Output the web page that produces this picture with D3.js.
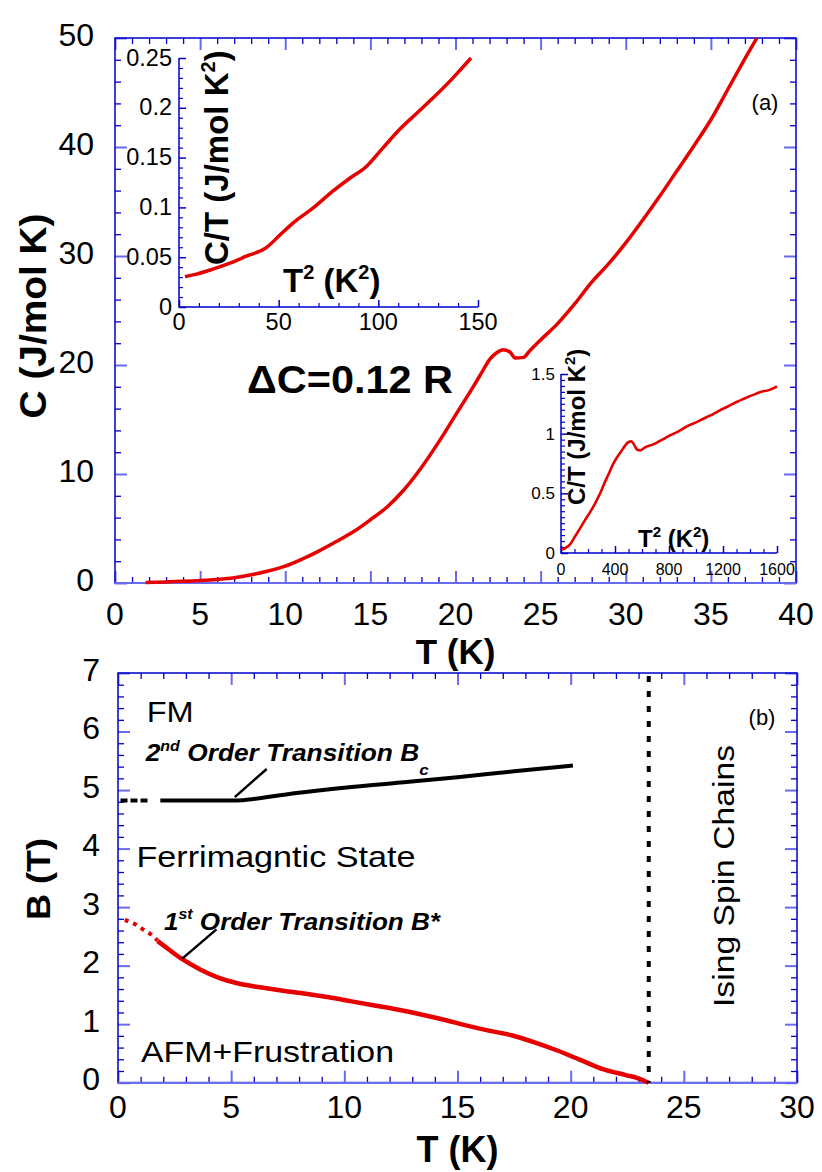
<!DOCTYPE html>
<html lang="en">

<head>
    <meta charset="UTF-8">
    <script src="https://d3js.org/d3.v7.min.js"></script>
    <title>Specific heat and B-T diagram</title>
    <style>
        body { margin: 0; background: #fff; }
        text { font-family: "Liberation Sans", Arial, sans-serif; fill: #000; }
    </style>
</head>

<body>
    <div id="my_chart"></div>
    <script>
        // ---- panel (a): C vs T ----
        var tempA = [1.8, 3, 4, 5, 6, 7, 8, 9, 10, 11, 12, 13, 14, 15, 16, 17, 18, 19, 20, 21, 21.5, 22, 22.4, 22.8, 23.2, 23.5, 24, 24.3, 25, 26, 27, 28, 29, 30, 31, 32, 33, 34, 35, 36, 37, 37.7];
        var heatA = [0.05, 0.1, 0.15, 0.22, 0.32, 0.48, 0.75, 1.1, 1.55, 2.2, 2.95, 3.8, 4.7, 5.8, 7.0, 8.6, 10.6, 12.9, 15.4, 17.9, 19.2, 20.5, 21.1, 21.4, 21.2, 20.65, 20.7, 21.2, 22.3, 23.8, 25.6, 27.6, 29.3, 31.2, 33.3, 35.5, 37.8, 40.1, 42.5, 45.3, 48.1, 50];

        // inset 1: C/T vs T^2, low T
        var t2Low = [3, 8.8, 17, 25.5, 33.8, 43.8, 50.5, 57, 67, 77, 85.5, 94, 102, 110.5, 119, 127, 137, 142, 146.5];
        var ctLow = [0.0305, 0.033, 0.038, 0.044, 0.051, 0.0596, 0.072, 0.084, 0.099, 0.116, 0.129, 0.141, 0.159, 0.178, 0.194, 0.209, 0.229, 0.240, 0.250];

        // inset 2: C/T vs T^2, full range
        var t2High = [4, 30, 69, 105, 143, 180, 217, 255, 290, 320, 352, 384, 414, 445, 475, 500, 520, 535, 550, 565, 586, 610, 623, 684, 750, 807, 870, 931, 1000, 1054, 1120, 1177, 1240, 1300, 1360, 1423, 1480, 1540, 1600];
        var ctHigh = [0.03, 0.04, 0.075, 0.14, 0.21, 0.28, 0.345, 0.42, 0.5, 0.58, 0.66, 0.74, 0.8, 0.85, 0.9, 0.93, 0.935, 0.92, 0.89, 0.865, 0.86, 0.875, 0.885, 0.91, 0.95, 0.985, 1.02, 1.06, 1.095, 1.125, 1.16, 1.195, 1.23, 1.265, 1.295, 1.325, 1.35, 1.365, 1.395];

        // ---- panel (b): B vs T ----
        var bcDashT = [0.11, 1.32];
        var bcDashB = [4.82, 4.82];
        var bcT = [1.87, 5.06, 7.5, 10, 12.5, 15, 17.5, 20.1];
        var bcB = [4.82, 4.82, 4.93, 5.04, 5.13, 5.22, 5.32, 5.42];
        var bsDotT = [0.3, 0.7, 1.1, 1.5, 1.75];
        var bsDotB = [2.78, 2.72, 2.62, 2.52, 2.43];
        var bsT = [1.75, 2.23, 2.84, 3.65, 4.46, 5.27, 6.28, 7.29, 8.3, 9.31, 10.32, 11.33, 12.34, 13.35, 14.36, 15.37, 16.38, 17.39, 18.4, 19.41, 20.42, 21.43, 22.44, 22.95, 23.45];
        var bsB = [2.42, 2.28, 2.11, 1.93, 1.79, 1.70, 1.63, 1.57, 1.52, 1.46, 1.39, 1.32, 1.25, 1.17, 1.08, 0.98, 0.89, 0.81, 0.69, 0.55, 0.39, 0.23, 0.13, 0.08, 0.0];
        var isingT = 23.45;
        var bcLeaderT = [6.57, 5.16], bcLeaderB = [5.36, 4.88];
        var bsLeaderT = [4.35, 2.84], bsLeaderB = [2.62, 2.12];

        // tick labels
        var ticksAx = [0, 5, 10, 15, 20, 25, 30, 35, 40];
        var ticksAy = [0, 10, 20, 30, 40, 50];
        var ticksI1x = [0, 50, 100, 150];
        var ticksI1y = [0, 0.05, 0.1, 0.15, 0.2, 0.25];
        var ticksI2x = [0, 400, 800, 1200, 1600];
        var ticksI2y = [0, 0.5, 1, 1.5];
        var ticksBx = [0, 5, 10, 15, 20, 25, 30];
        var ticksBy = [0, 1, 2, 3, 4, 5, 6, 7];

        var blue = "#0000cc", lightBlue = "#6a6af0", red = "#e60000";

        var svg = d3.select("#my_chart")
            .append("svg")
            .attr("width", 822)
            .attr("height", 1172);

        function pairs(a, b) { return a.map(function (v, i) { return [v, b[i]]; }); }
        function minorOf(lo, hi, step, major) {
            return d3.range(lo, hi + step / 2, step).filter(function (v) {
                var r = v / major;
                return Math.abs(r - Math.round(r)) > 1e-6;
            });
        }

        function tickSet(g, axis, vals, pos, len, color, w) {
            var a = g.append("g").attr("transform", pos)
                .call(axis.tickValues(vals).tickSize(-len).tickSizeOuter(0).tickFormat(""));
            a.select(".domain").remove();
            a.selectAll("line").attr("stroke", color).attr("stroke-width", w);
        }

        // full box with inward ticks on all four sides
        function boxAxes(x, y, xMaj, xMin, yMaj, yMin) {
            var x0 = x.range()[0], x1 = x.range()[1], y0 = y.range()[0], y1 = y.range()[1];
            var g = svg.append("g");
            [["axisBottom", "translate(0," + y0 + ")", x, xMin, xMaj],
             ["axisTop", "translate(0," + y1 + ")", x, xMin, xMaj],
             ["axisLeft", "translate(" + x0 + ",0)", y, yMin, yMaj],
             ["axisRight", "translate(" + x1 + ",0)", y, yMin, yMaj]].forEach(function (s) {
                tickSet(g, d3[s[0]](s[2]), s[3], s[1], 6, blue, 1.3);
                tickSet(g, d3[s[0]](s[2]), s[4], s[1], 12, lightBlue, 2);
            });
            g.append("rect").attr("x", x0).attr("y", y1)
                .attr("width", x1 - x0).attr("height", y0 - y1)
                .attr("fill", "none").attr("stroke", blue).attr("stroke-width", 1.5);
            g.append("line").attr("x1", x0).attr("x2", x1).attr("y1", y0).attr("y2", y0)
                .attr("stroke", lightBlue).attr("stroke-width", 2);
        }

        // inset: left and bottom axes only
        function insetAxes(x, y, xMaj, xMin, yMaj, yMin) {
            var x0 = x.range()[0], x1 = x.range()[1], y0 = y.range()[0], y1 = y.range()[1];
            var g = svg.append("g");
            tickSet(g, d3.axisBottom(x), xMin, "translate(0," + y0 + ")", 4, blue, 1.2);
            tickSet(g, d3.axisBottom(x), xMaj, "translate(0," + y0 + ")", 7, blue, 1.5);
            tickSet(g, d3.axisLeft(y), yMin, "translate(" + x0 + ",0)", 4, blue, 1.2);
            tickSet(g, d3.axisLeft(y), yMaj, "translate(" + x0 + ",0)", 7, blue, 1.5);
            g.append("path").attr("d", "M" + x0 + "," + y1 + "V" + y0 + "H" + x1)
                .attr("fill", "none").attr("stroke", blue).attr("stroke-width", 1.5);
        }

        function txt(s, x, y, o) {
            o = o || {};
            var t = svg.append("text")
                .attr("transform", "translate(" + x + "," + y + ")" + (o.rot ? " rotate(-90)" : ""))
                .attr("font-size", o.size || 30)
                .attr("font-weight", o.bold ? "bold" : null)
                .attr("font-style", o.italic ? "italic" : null)
                .attr("text-anchor", o.anchor || "start");
            if (s !== null) t.text(s);
            if (o.len) t.attr("textLength", o.len).attr("lengthAdjust", "spacingAndGlyphs");
            return t;
        }

        function tickLabels(vals, fmt, px, py, o) {
            vals.forEach(function (v) { txt(fmt(v), px(v), py(v), o); });
        }

        var line = function (x, y) {
            return d3.line().x(function (d) { return x(d[0]); }).y(function (d) { return y(d[1]); })
                .curve(d3.curveMonotoneX);
        };

        // ================= panel (a) =================
        var xA = d3.scaleLinear().domain([0, 40]).range([115, 796]);
        var yA = d3.scaleLinear().domain([0, 50]).range([583, 38]);
        boxAxes(xA, yA, d3.range(0, 41, 5), minorOf(0, 40, 1, 5), d3.range(0, 51, 10), minorOf(0, 50, 2, 10));

        svg.append("path").datum(pairs(tempA, heatA))
            .attr("d", line(xA, yA)).attr("fill", "none")
            .attr("stroke", red).attr("stroke-width", 3.5);

        tickLabels(ticksAx, String, function (v) { return xA(v); }, function () { return 625; }, { anchor: "middle", size: 32 });
        tickLabels(ticksAy, String, function () { return 94; }, function (v) { return yA(v) + 8; }, { anchor: "end", size: 32 });
        txt("T (K)", xA(20), 664, { bold: true, size: 35, anchor: "middle" });
        txt("C (J/mol K)", 46, yA(24.5), { bold: true, size: 36, anchor: "middle", rot: true, len: 205 });
        txt("(a)", 765, 110, { size: 22, anchor: "middle" });
        txt("\u0394C=0.12 R", 453, 393, { bold: true, size: 39, anchor: "end", len: 206 });

        // inset 1
        var xI1 = d3.scaleLinear().domain([0, 150]).range([179, 478]);
        var yI1 = d3.scaleLinear().domain([0, 0.25]).range([307, 58]);
        insetAxes(xI1, yI1, d3.range(0, 151, 50), minorOf(0, 150, 10, 50), ticksI1y, minorOf(0, 0.25, 0.01, 0.05));
        svg.append("path").datum(pairs(t2Low, ctLow))
            .attr("d", line(xI1, yI1)).attr("fill", "none")
            .attr("stroke", red).attr("stroke-width", 3.5);
        tickLabels(ticksI1x, String, function (v) { return xI1(v); }, function () { return 330; }, { anchor: "middle", size: 23.5 });
        tickLabels(ticksI1y, String, function () { return 172; }, function (v) { return yI1(v) + 7.5; }, { anchor: "end", size: 23.5 });
        var l1 = txt(null, 283, 292, { bold: true, size: 33 });
        l1.append("tspan").text("T");
        l1.append("tspan").attr("font-size", 20).attr("dy", -13).text("2");
        l1.append("tspan").attr("dy", 13).text(" (K");
        l1.append("tspan").attr("font-size", 20).attr("dy", -13).text("2");
        l1.append("tspan").attr("dy", 13).text(")");
        var l2 = txt(null, 228, 265, { bold: true, size: 33, rot: true });
        l2.append("tspan").text("C/T (J/mol K");
        l2.append("tspan").attr("font-size", 20).attr("dy", -13).text("2");
        l2.append("tspan").attr("dy", 13).text(")");

        // inset 2
        var xI2 = d3.scaleLinear().domain([0, 1600]).range([561, 777]);
        var yI2 = d3.scaleLinear().domain([0, 1.5]).range([553, 374]);
        insetAxes(xI2, yI2, ticksI2x, minorOf(0, 1600, 100, 400), ticksI2y, minorOf(0, 1.5, 0.05, 0.5));
        svg.append("path").datum(pairs(t2High, ctHigh))
            .attr("d", line(xI2, yI2)).attr("fill", "none")
            .attr("stroke", red).attr("stroke-width", 2.6);
        tickLabels(ticksI2x, String, function (v) { return xI2(v); }, function () { return 575; }, { anchor: "middle", size: 16 });
        tickLabels(ticksI2y, String, function () { return 555; }, function (v) { return yI2(v) + 6; }, { anchor: "end", size: 17 });
        var l3 = txt(null, 638, 547, { bold: true, size: 24 });
        l3.append("tspan").text("T");
        l3.append("tspan").attr("font-size", 15).attr("dy", -10).text("2");
        l3.append("tspan").attr("dy", 10).text(" (K");
        l3.append("tspan").attr("font-size", 15).attr("dy", -10).text("2");
        l3.append("tspan").attr("dy", 10).text(")");
        var l4 = txt(null, 585, 505, { bold: true, size: 24, rot: true });
        l4.append("tspan").text("C/T (J/mol K");
        l4.append("tspan").attr("font-size", 15).attr("dy", -10).text("2");
        l4.append("tspan").attr("dy", 10).text(")");

        // ================= panel (b) =================
        var xB = d3.scaleLinear().domain([0, 30]).range([118, 797]);
        var yB = d3.scaleLinear().domain([0, 7]).range([1082.7, 673]);
        boxAxes(xB, yB, d3.range(0, 31, 5), minorOf(0, 30, 1, 5), d3.range(0, 8, 1), minorOf(0, 7, 0.2, 1));

        var straight = d3.line().x(function (d) { return xB(d[0]); }).y(function (d) { return yB(d[1]); });
        var smooth = line(xB, yB);

        svg.append("path").datum(pairs(bcDashT, bcDashB))
            .attr("d", straight).attr("fill", "none").attr("stroke", "#000")
            .attr("stroke-width", 4).attr("stroke-dasharray", "7,3");
        svg.append("path").datum(pairs(bcT, bcB))
            .attr("d", smooth).attr("fill", "none").attr("stroke", "#000").attr("stroke-width", 4);
        svg.append("path").datum(pairs(bsDotT, bsDotB))
            .attr("d", smooth).attr("fill", "none").attr("stroke", red)
            .attr("stroke-width", 4).attr("stroke-dasharray", "4,5");
        svg.append("path").datum(pairs(bsT, bsB))
            .attr("d", smooth).attr("fill", "none").attr("stroke", red).attr("stroke-width", 4.5);
        svg.append("line")
            .attr("x1", xB(isingT)).attr("x2", xB(isingT))
            .attr("y1", yB(7) + 3).attr("y2", yB(0))
            .attr("stroke", "#000").attr("stroke-width", 4).attr("stroke-dasharray", "6,9");
        [[bcLeaderT, bcLeaderB], [bsLeaderT, bsLeaderB]].forEach(function (l) {
            svg.append("path").datum(pairs(l[0], l[1]))
                .attr("d", straight).attr("stroke", "#000").attr("stroke-width", 2.5);
        });

        tickLabels(ticksBx, String, function (v) { return xB(v); }, function () { return 1118; }, { anchor: "middle", size: 32 });
        tickLabels(ticksBy, String, function () { return 100; }, function (v) { return yB(v) + 7.5; }, { anchor: "end", size: 32 });
        txt("T (K)", xB(15), 1162, { bold: true, size: 36, anchor: "middle" });
        txt("B (T)", 50, 879, { bold: true, size: 34, anchor: "middle", rot: true, len: 82 });
        txt("FM", 146.7, 721.7, { size: 30, len: 47 });
        txt("(b)", 762, 725, { size: 22, anchor: "middle" });
        txt("Ferrimagntic State", 136.5, 866.7, { size: 30, len: 279 });
        txt("AFM+Frustration", 141, 1061.7, { size: 30, len: 253 });
        txt("Ising Spin Chains", 734, 1007, { size: 30, rot: true, len: 262 });

        var bc = txt(null, 145.7, 760.7, { bold: true, italic: true, size: 23, len: 283 });
        bc.append("tspan").text("2");
        bc.append("tspan").attr("font-size", 14).attr("dy", -10).text("nd");
        bc.append("tspan").attr("dy", 10).text(" Order Transition B");
        bc.append("tspan").attr("font-size", 15).attr("dy", 14).text("c");

        var bs = txt(null, 164, 930, { bold: true, italic: true, size: 23, len: 276 });
        bs.append("tspan").text("1");
        bs.append("tspan").attr("font-size", 14).attr("dy", -11).text("st");
        bs.append("tspan").attr("dy", 11).text(" Order Transition B*");
    </script>
</body>

</html>
